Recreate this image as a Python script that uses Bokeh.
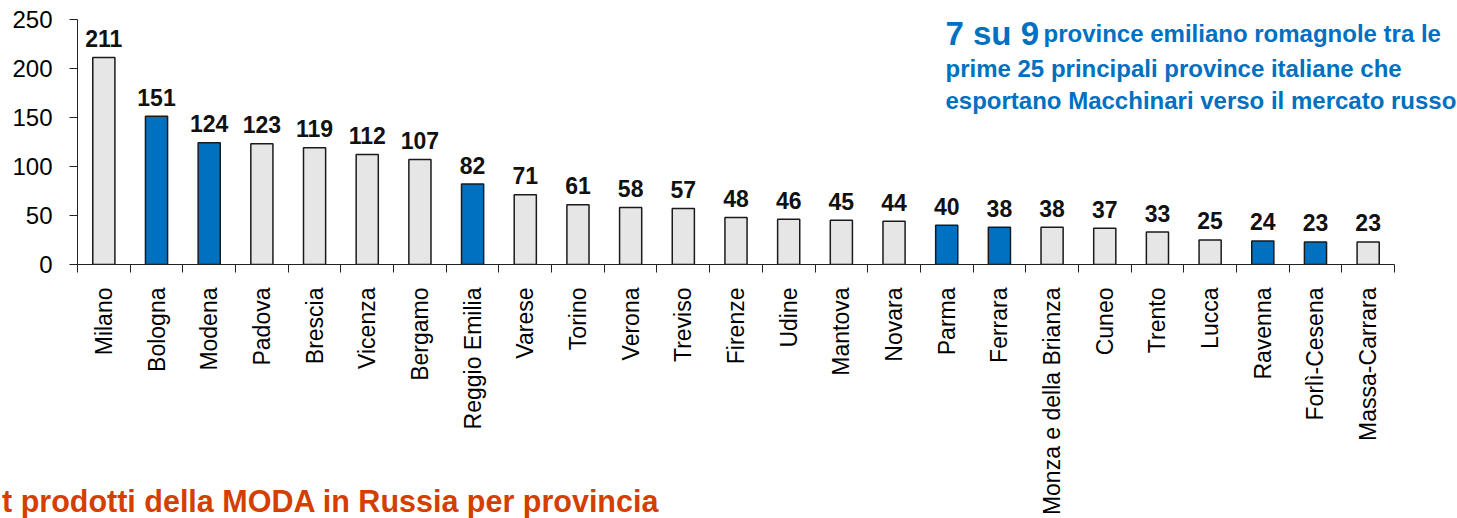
from math import pi
from bokeh.plotting import figure
from bokeh.layouts import column
from bokeh.models import (Range1d, LinearAxis, FixedTicker, ColumnDataSource, Label, Div)
from bokeh.core.properties import value
from bokeh.embed import file_html
from bokeh.resources import INLINE

provinces = ["Milano", "Bologna", "Modena", "Padova", "Brescia", "Vicenza", "Bergamo",
             "Reggio Emilia", "Varese", "Torino", "Verona", "Treviso", "Firenze", "Udine",
             "Mantova", "Novara", "Parma", "Ferrara", "Monza e della Brianza", "Cuneo",
             "Trento", "Lucca", "Ravenna", "Forlì-Cesena", "Massa-Carrara"]
export_values = [211, 151, 124, 123, 119, 112, 107, 82, 71, 61, 58, 57, 48, 46, 45, 44,
                 40, 38, 38, 37, 33, 25, 24, 23, 23]
emilia_romagna = ["Bologna", "Modena", "Reggio Emilia", "Parma", "Ferrara", "Ravenna",
                  "Forlì-Cesena"]
y_ticks = [0, 50, 100, 150, 200, 250]

BLUE = "#0070C0"
GRAY = "#E6E6E6"
ORANGE = "#D43F00"
n = len(provinces)
idx = list(range(n))
Y_MAX = 250

# layout constants (pixels)
W, H = 1457, 518
LEFT, AXIS_RIGHT = 77, 1394      # x-axis extent on the canvas
AXIS_TOP, AXIS_BOTTOM = 19, 268  # y-axis extent on the canvas
px_x = (AXIS_RIGHT - LEFT) / n
px_y = (AXIS_BOTTOM - AXIS_TOP) / Y_MAX
x_end = -0.5 + (W - LEFT) / px_x          # frame runs to the right edge
y_end = AXIS_BOTTOM / px_y                # frame runs to the top edge

src = ColumnDataSource(dict(
    x=idx,
    val=export_values,
    lab=[str(v) for v in export_values],
    col=[BLUE if p in emilia_romagna else GRAY for p in provinces],
))

p = figure(width=W, height=H, output_backend="svg", toolbar_location=None,
           x_range=Range1d(-0.5, x_end), y_range=Range1d(0, y_end),
           x_axis_location=None, y_axis_location=None,
           min_border_left=LEFT, min_border_right=0, min_border_top=0,
           min_border_bottom=H - AXIS_BOTTOM)
p.outline_line_color = None
p.xgrid.grid_line_color = None
p.ygrid.grid_line_color = None
p.background_fill_color = "white"
p.border_fill_color = "white"

# y axis
yax = LinearAxis(ticker=FixedTicker(ticks=y_ticks), bounds=(0, Y_MAX))
yax.major_tick_in = 0
yax.major_tick_out = 8
yax.minor_tick_line_color = None
yax.axis_line_color = "#222222"
yax.major_tick_line_color = "#222222"
yax.major_label_text_font = "Liberation Sans"
yax.major_label_text_font_size = "24px"
yax.major_label_text_color = "black"
yax.major_label_standoff = 17
p.add_layout(yax, "left")

# x axis: labels at bar centres, tick marks at category boundaries
xax = LinearAxis(ticker=FixedTicker(ticks=idx, minor_ticks=[i - 0.5 for i in range(n + 1)]),
                 bounds=(-0.5, n - 0.5))
xax.major_label_overrides = {i: name for i, name in zip(idx, provinces)}
xax.axis_line_color = "#222222"
xax.major_tick_line_color = None
xax.major_tick_in = 0
xax.major_tick_out = 0
xax.minor_tick_line_color = "#222222"
xax.minor_tick_in = 0
xax.minor_tick_out = 8
xax.major_label_orientation = pi / 2
xax.major_label_text_font = "Liberation Sans"
xax.major_label_text_font_size = "23px"
xax.major_label_text_color = "black"
xax.major_label_standoff = 15
p.add_layout(xax, "below")

p.vbar(x="x", top="val", width=0.42, source=src, fill_color="col",
       line_color="#1a1a1a", line_width=1.5)

p.text(x="x", y="val", text="lab", source=src, text_align="center",
       text_baseline="alphabetic", y_offset=-19,
       text_font=value("Liberation Sans"), text_font_style="bold",
       text_font_size="23px", text_color="#111111")

def lab(x, y, text, size, color):
    p.add_layout(Label(x=x, y=y, x_units="canvas", y_units="canvas", text=text,
                       text_font="Liberation Sans", text_font_style="bold",
                       text_font_size=size, text_color=color, text_baseline="alphabetic"))

lab(945, 33, "7 su 9", "33px", BLUE)
lab(1043, 33, "province emiliano romagnole tra le", "24px", BLUE)
lab(945, 68, "prime 25 principali province italiane che", "24px", BLUE)
lab(945, 100, "esportano Macchinari verso il mercato russo", "24px", BLUE)

note = Div(text="t prodotti della MODA in Russia per provincia",
           styles={"position": "absolute", "left": "-3px", "top": "478px",
                   "font-family": "Liberation Sans", "font-weight": "bold",
                   "font-size": "30.5px", "color": ORANGE, "white-space": "nowrap",
                   "line-height": "36px"})

layout = column(p, note)
open("out.html", "w").write(file_html(layout, INLINE))
